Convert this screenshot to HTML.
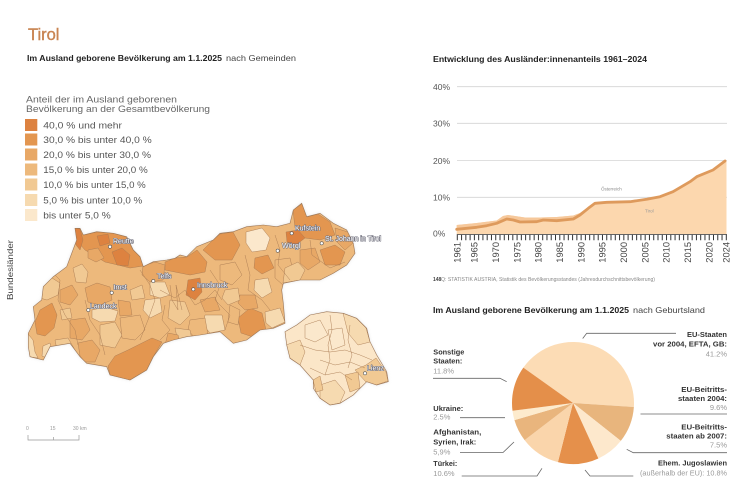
<!DOCTYPE html>
<html>
<head>
<meta charset="utf-8">
<style>
html,body{margin:0;padding:0;background:#fff;}
svg{display:block;}
text{font-family:"Liberation Sans",Arial,sans-serif;}
</style>
</head>
<body>
<svg width="750" height="486" viewBox="0 0 750 486" xmlns="http://www.w3.org/2000/svg">
<defs>
<clipPath id="nt">
<path id="ntp" d="M28.3,346.7 L30,356.7 L43.3,360 L50,346.7 L70,343.3 L80,356.7 L86.7,363.3 L106.7,366.7 L110,375 L130,380 L146.7,370 L153.3,356.7 L163.3,343.3 L173.3,340 L186.7,336.7 L200,335 L220,331.7 L233.3,343.3 L246.7,340 L260,330 L273.3,328.3 L285,323.3 L283.3,303.3 L281.7,290 L283.3,283.3 L300,280 L320,280 L333.3,273.3 L346.7,265 L355,253.3 L353.3,243.3 L346.7,230 L333.3,223.3 L320,213.3 L306.7,216.7 L301.7,203.3 L293.3,210 L290,223.3 L276.7,226.7 L263.3,225 L246.7,226.7 L233.3,231.7 L220,233.3 L213.3,240 L196.7,246.7 L186.7,256.7 L180,255 L175,258.3 L166.7,260 L153.3,261.7 L143.3,266.7 L140,256.7 L133.3,250 L126.7,236.7 L113.3,233.3 L96.7,231.7 L83.3,235 L80,228.3 L75,228.3 L76.7,240 L66.7,266.7 L53.3,276.7 L43.3,286.7 L41.7,300 L33.3,306.7 L35,320 L28.3,333.3 Z"/>
</clipPath>
<clipPath id="et">
<path d="M285,331.7 L296.7,325 L310,315 L326.7,311.7 L343.3,313.3 L356.7,318.3 L366.7,328.3 L370,341.7 L376.7,355 L386.7,371.7 L388.3,381.7 L376.7,385 L366.7,381.7 L353.3,395 L340,403.3 L330,405 L320,398.3 L313.3,388.3 L313.3,380 L300,365 L290,358.3 L286.7,345 Z"/>
</clipPath>
<filter id="sh" x="-10%" y="-10%" width="120%" height="120%">
<feGaussianBlur in="SourceAlpha" stdDeviation="1.6"/>
<feColorMatrix values="0 0 0 0 0.5  0 0 0 0 0.5  0 0 0 0 0.5  0 0 0 0.45 0"/>
<feMerge><feMergeNode/><feMergeNode in="SourceGraphic"/></feMerge>
</filter>
</defs>

<!-- Title -->
<text x="28" y="40" font-size="16.5" fill="#c98553" stroke="#c98553" stroke-width="0.4">Tirol</text>
<text x="27" y="61" font-size="8.5" font-weight="bold" fill="#222" textLength="195" lengthAdjust="spacingAndGlyphs">Im Ausland geborene Bevölkerung am 1.1.2025</text>
<text x="226" y="61" font-size="8.5" fill="#444" textLength="70" lengthAdjust="spacingAndGlyphs">nach Gemeinden</text>

<!-- Legend -->
<text x="26" y="102.5" font-size="9.5" fill="#666" textLength="151" lengthAdjust="spacingAndGlyphs">Anteil der im Ausland geborenen</text>
<text x="26" y="112" font-size="9.5" fill="#666" textLength="184" lengthAdjust="spacingAndGlyphs">Bevölkerung an der Gesamtbevölkerung</text>
<g font-size="9.5" fill="#555">
<rect x="25" y="119" width="12.3" height="12" fill="#dd8240"/>
<text x="43.3" y="128.5" textLength="78.7" lengthAdjust="spacingAndGlyphs">40,0 % und mehr</text>
<rect x="25" y="133.5" width="12.3" height="12" fill="#e39650"/>
<text x="43.3" y="143" textLength="108.4" lengthAdjust="spacingAndGlyphs">30,0 % bis unter 40,0 %</text>
<rect x="25" y="148.5" width="12.3" height="12" fill="#e8a866"/>
<text x="43.3" y="158" textLength="107.7" lengthAdjust="spacingAndGlyphs">20,0 % bis unter 30,0 %</text>
<rect x="25" y="163.5" width="12.3" height="12" fill="#edb97c"/>
<text x="43.3" y="173" textLength="104.4" lengthAdjust="spacingAndGlyphs">15,0 % bis unter 20,0 %</text>
<rect x="25" y="178.5" width="12.3" height="12" fill="#f1c993"/>
<text x="43.3" y="188" textLength="102.4" lengthAdjust="spacingAndGlyphs">10,0 % bis unter 15,0 %</text>
<rect x="25" y="194" width="12.3" height="12" fill="#f6dab0"/>
<text x="43.3" y="203.5" textLength="99" lengthAdjust="spacingAndGlyphs">5,0 % bis unter 10,0 %</text>
<rect x="25" y="209" width="12.3" height="12" fill="#fbe8cc"/>
<text x="43.3" y="218.5" textLength="67.4" lengthAdjust="spacingAndGlyphs">bis unter 5,0 %</text>
</g>

<!-- Bundesländer -->
<text transform="translate(13,300) rotate(-90)" font-size="8" fill="#444" textLength="60" lengthAdjust="spacingAndGlyphs">Bundesländer</text>

<!-- North Tirol map -->
<g filter="url(#sh)">
<use href="#ntp" fill="#edb97c"/>
</g>
<g clip-path="url(#nt)" stroke="#a97b52" stroke-width="0.45" stroke-linejoin="round">
<polygon fill="#e39650" points="76,228 80,228 84,235 97,232 113,233 126,237 133,250 140,257 143,266 130,268 118,265 105,262 95,256 85,250 78,242"/>
<polygon fill="#dd8240" points="75,228 80,229 83,240 80,250 76,245"/>
<polygon fill="#dd8240" points="112,252 122,248 130,255 128,266 117,265"/>
<polygon fill="#dd8240" points="97,236 108,234 110,243 100,246"/>
<polygon fill="#e8a866" points="88,250 98,248 104,258 96,262 88,258"/>
<polygon fill="#f1c993" points="73,268 82,264 88,272 86,283 76,282"/>
<polygon fill="#e39650" points="35,322 40,310 52,303 57,315 54,328 45,336 37,334"/>
<polygon fill="#f6dab0" points="28,334 33,340 35,352 38,358 30,357 28,346"/>
<polygon fill="#f6dab0" points="43,346 50,343 52,352 47,358 42,356"/>
<polygon fill="#f1c993" points="42,286 52,278 60,283 58,295 47,300 40,298"/>
<polygon fill="#e8a866" points="60,290 72,285 78,295 70,305 60,302"/>
<polygon fill="#e8a866" points="85,288 97,283 110,287 112,300 100,305 88,302"/>
<polygon fill="#f6dab0" points="92,310 105,307 118,311 115,321 100,322 92,318"/>
<polygon fill="#e8a866" points="70,320 85,318 90,330 82,340 70,338"/>
<polygon fill="#f1c993" points="55,340 68,338 75,350 70,358 58,355"/>
<polygon fill="#e8a866" points="78,343 92,340 100,350 95,362 85,362 80,356"/>
<polygon fill="#e39650" points="108,366 115,356 128,350 140,344 152,338 162,342 153,357 147,370 130,380 110,375"/>
<polygon fill="#f1c993" points="100,325 115,322 122,335 115,348 100,345"/>
<polygon fill="#edb97c" points="120,318 140,315 145,330 135,340 122,338"/>
<polygon fill="#f6dab0" points="145,300 160,298 162,312 150,318 143,310"/>
<polygon fill="#e39650" points="165,262 175,258 187,257 197,250 207,262 205,272 190,275 175,272 165,270"/>
<polygon fill="#dd8240" points="188,280 200,278 202,292 195,300 186,295"/>
<polygon fill="#e8a866" points="143,266 155,262 165,265 163,280 150,282 142,275"/>
<polygon fill="#f6dab0" points="150,282 165,282 170,295 160,298 150,295"/>
<polygon fill="#f1c993" points="170,300 185,302 190,315 180,325 168,318"/>
<polygon fill="#f6dab0" points="205,315 222,315 225,330 210,333 203,325"/>
<polygon fill="#edb97c" points="190,320 205,318 208,335 195,338 188,330"/>
<polygon fill="#f1c993" points="175,328 190,330 192,340 178,342"/>
<polygon fill="#e39650" points="203,250 213,240 220,234 233,232 240,245 232,260 215,260"/>
<polygon fill="#fbe8cc" points="246,232 262,228 270,238 266,250 252,252 246,243"/>
<polygon fill="#edb97c" points="220,265 235,262 242,275 232,285 220,280"/>
<polygon fill="#f6dab0" points="255,280 268,278 272,292 262,298 254,290"/>
<polygon fill="#e39650" points="238,318 250,308 262,313 266,330 256,338 241,333"/>
<polygon fill="#f6dab0" points="265,312 280,308 285,322 272,328 266,323"/>
<polygon fill="#e8a866" points="240,295 255,295 258,308 245,310 238,303"/>
<polygon fill="#edb97c" points="275,260 290,258 294,275 283,285 275,278"/>
<polygon fill="#e39650" points="293,210 302,204 307,217 318,214 330,222 335,235 320,240 305,238 295,228"/>
<polygon fill="#dd8240" points="286,232 298,230 305,238 296,245 287,242"/>
<polygon fill="#e8a866" points="300,250 315,248 320,262 308,270 300,263"/>
<polygon fill="#e39650" points="320,250 335,245 345,252 340,265 325,265"/>
<polygon fill="#e8a866" points="335,228 348,232 353,243 345,250 337,242"/>
<polygon fill="#f1c993" points="283,283 300,280 305,270 298,262 285,268"/>
<polygon fill="#e39650" points="255,258 268,255 274,268 262,274 254,268"/>
<polygon fill="#f1c993" points="225,290 238,288 240,300 228,305 222,298"/>
<polygon fill="#e8a866" points="200,300 215,297 220,310 205,312"/>
<polygon fill="#f1c993" points="130,290 142,285 145,298 132,300"/>
<polygon fill="#e8a866" points="118,300 130,302 132,315 120,316"/>
<polygon fill="#f1c993" points="60,310 70,308 72,318 62,320"/>
<polygon fill="#edb97c" points="230,305 240,310 238,325 228,322"/>
<polygon fill="#e8a866" points="165,345 180,343 178,335 168,333"/>
<polyline fill="none" points="50,270 60,280 58,300 65,315 75,330 78,345"/>
<polyline fill="none" points="140,270 150,285 155,300 148,320 140,340"/>
<polyline fill="none" points="160,290 175,298 185,290 195,305 205,300 215,290 222,300"/>
<polyline fill="none" points="210,270 220,285 215,300 230,315 225,330"/>
<polyline fill="none" points="245,255 250,275 248,290 262,300 270,310"/>
<polyline fill="none" points="275,235 280,250 278,265 290,280"/>
<polyline fill="none" points="310,240 312,255 330,268 345,262"/>
<polyline fill="none" points="165,305 162,320 170,330 160,340"/>
<polyline fill="none" points="85,300 90,320 100,335 105,355"/>
<polyline fill="none" points="170,285 172,300 178,310 176,285 182,310"/>
</g>
<use href="#ntp" fill="none" stroke="#9c7656" stroke-width="0.6"/>

<!-- East Tirol -->
<g filter="url(#sh)">
<path d="M285,331.7 L296.7,325 L310,315 L326.7,311.7 L343.3,313.3 L356.7,318.3 L366.7,328.3 L370,341.7 L376.7,355 L386.7,371.7 L388.3,381.7 L376.7,385 L366.7,381.7 L353.3,395 L340,403.3 L330,405 L320,398.3 L313.3,388.3 L313.3,380 L300,365 L290,358.3 L286.7,345 Z" fill="#fbe6c8"/>
</g>
<g clip-path="url(#et)" stroke="#a97b52" stroke-width="0.45" stroke-linejoin="round">
<polygon fill="#f6dab0" points="343,313 356,318 366,328 370,342 358,345 348,333"/>
<polygon fill="#f6dab0" points="286,345 300,340 305,352 300,365 290,358"/>
<polygon fill="#f1c993" points="355,370 366,365 376,358 386,372 388,381 376,385 366,382"/>
<polygon fill="#f6dab0" points="320,385 335,380 345,392 340,403 330,405 320,398"/>
<polygon fill="#f1c993" points="313,380 320,376 323,390 316,392"/>
<polygon fill="#f1c993" points="345,375 358,372 360,388 350,392"/>
<polygon fill="#fbe8cc" points="305,325 320,320 328,335 315,342 305,338"/>
<polygon fill="#fbe8cc" points="328,330 342,328 345,345 332,350"/>
<polyline fill="none" points="300,345 315,350 330,352 345,350 360,355 372,360"/>
<polyline fill="none" points="320,360 335,365 350,362 365,368"/>
<polyline fill="none" points="310,368 325,375 340,372 352,380"/>
<polyline fill="none" points="330,315 332,330 328,345 330,360 325,375"/>
<polyline fill="none" points="350,325 348,340 352,355 348,368"/>
</g>
<path d="M285,331.7 L296.7,325 L310,315 L326.7,311.7 L343.3,313.3 L356.7,318.3 L366.7,328.3 L370,341.7 L376.7,355 L386.7,371.7 L388.3,381.7 L376.7,385 L366.7,381.7 L353.3,395 L340,403.3 L330,405 L320,398.3 L313.3,388.3 L313.3,380 L300,365 L290,358.3 L286.7,345 Z" fill="none" stroke="#9c7656" stroke-width="0.6"/>

<!-- City labels -->
<g fill="#fff" stroke="#555" stroke-width="0.6">
<circle cx="110" cy="246.7" r="1.6"/>
<circle cx="153.3" cy="281" r="1.6"/>
<circle cx="111.7" cy="292.7" r="1.6"/>
<circle cx="88.3" cy="310" r="1.6"/>
<circle cx="193.3" cy="289.3" r="1.6"/>
<circle cx="291.7" cy="233.3" r="1.6"/>
<circle cx="277.7" cy="250.7" r="1.6"/>
<circle cx="321.7" cy="243.3" r="1.6"/>
<circle cx="365" cy="373.3" r="1.6"/>
</g>
<g font-size="7" fill="#fff" stroke="#6a6a78" stroke-width="1.1" paint-order="stroke" stroke-linejoin="round">
<text x="113" y="243.5">Reutte</text>
<text x="157" y="278.5">Telfs</text>
<text x="113.5" y="289.5">Imst</text>
<text x="90" y="308.5">Landeck</text>
<text x="197" y="287.5">Innsbruck</text>
<text x="295" y="230.5">Kufstein</text>
<text x="282" y="248">Wörgl</text>
<text x="325" y="240.8">St. Johann in Tirol</text>
<text x="367" y="370.5">Lienz</text>
</g>

<!-- Scale bar -->
<g font-size="5" fill="#999">
<text x="26" y="430">0</text>
<text x="50" y="430">15</text>
<text x="73" y="430">30 km</text>
</g>
<polyline points="28,435 28,440 79,440 79,435" fill="none" stroke="#999" stroke-width="0.7"/>
<line x1="53.5" y1="437" x2="53.5" y2="440" stroke="#999" stroke-width="0.7"/>

<!-- Line chart -->
<text x="433" y="62" font-size="8.7" font-weight="bold" fill="#222" textLength="214" lengthAdjust="spacingAndGlyphs">Entwicklung des Ausländer:innenanteils 1961–2024</text>
<g stroke="#d4d4d4" stroke-width="0.8">
<line x1="457" y1="86.7" x2="727" y2="86.7"/>
<line x1="457" y1="123.3" x2="727" y2="123.3"/>
<line x1="457" y1="160.5" x2="727" y2="160.5"/>
<line x1="457" y1="197.3" x2="727" y2="197.3"/>
</g>
<g font-size="8.5" fill="#555">
<text x="433" y="90">40%</text>
<text x="433" y="126.6">30%</text>
<text x="433" y="164">20%</text>
<text x="433" y="200.6">10%</text>
<text x="433" y="236.6">0%</text>
</g>
<path d="M456.7,225 L476.7,223 L496.7,220.5 L503,216 L508,215 L515,216 L525,217.5 L540,217.5 L556.7,217 L573.3,215.5 L580,213 L588.3,207 L595,202 L606.7,201.5 L630,201 L646.7,198.5 L660,196 L673,191 L690,181 L696.7,176 L713,169.3 L725,160.5 L726.5,160.5 L726.5,234 L456.7,234 Z" fill="#fcd7ae"/>
<path d="M456.7,225 L476.7,223 L496.7,220.5 L503,216 L508,215 L515,216 L525,217.5 L540,217.5 L556.7,217 L573.3,215.5 L580,213 L588.3,207 L590,208.3 L580,215 L573.3,219 L556.7,220.7 L543.3,220 L536.7,221.7 L520,222 L513.3,220 L506.7,219 L496.7,223.3 L486.7,225.7 L476.7,227.3 L456.7,229.3 Z" fill="#f6c89b"/>
<path d="M456.7,229.3 L476.7,227.3 L486.7,225.7 L496.7,223.3 L506.7,219 L513.3,220 L520,222 L536.7,221.7 L543.3,220 L556.7,220.7 L573.3,219 L580,215 L588.3,208.3 L595,203.3 L606.7,202.3 L630,201.7 L646.7,199.3 L660,196.7 L673,191.7 L690,181.7 L696.7,176.7 L713,170 L725,161" fill="none" stroke="#de9a5c" stroke-width="2.8" stroke-linejoin="round" stroke-linecap="round"/>
<text x="601" y="190.5" font-size="4.5" fill="#888">Österreich</text>
<text x="645" y="212.5" font-size="4.5" fill="#999">Tirol</text>
<line x1="456.8" y1="234.5" x2="727" y2="234.5" stroke="#333" stroke-width="0.8"/>
<line x1="456.8" y1="237.5" x2="727" y2="237.5" stroke="#333" stroke-width="5.5" stroke-dasharray="1 3.27"/>
<g font-size="9.3" fill="#444" text-anchor="end">
<text transform="translate(460.5,242) rotate(-90)">1961</text>
<text transform="translate(477.6,242) rotate(-90)">1965</text>
<text transform="translate(498.9,242) rotate(-90)">1970</text>
<text transform="translate(520.3,242) rotate(-90)">1975</text>
<text transform="translate(541.6,242) rotate(-90)">1980</text>
<text transform="translate(563,242) rotate(-90)">1985</text>
<text transform="translate(584.3,242) rotate(-90)">1990</text>
<text transform="translate(605.7,242) rotate(-90)">1995</text>
<text transform="translate(627,242) rotate(-90)">2000</text>
<text transform="translate(648.4,242) rotate(-90)">2005</text>
<text transform="translate(669.7,242) rotate(-90)">2010</text>
<text transform="translate(691.1,242) rotate(-90)">2015</text>
<text transform="translate(712.4,242) rotate(-90)">2020</text>
<text transform="translate(729.5,242) rotate(-90)">2024</text>
</g>
<text x="433" y="281" font-size="5" font-weight="bold" fill="#444">148</text>
<text x="441" y="281" font-size="5" fill="#888" textLength="214" lengthAdjust="spacingAndGlyphs">Q: STATISTIK AUSTRIA, Statistik des Bevölkerungsstandes (Jahresdurchschnittsbevölkerung)</text>

<!-- Pie chart -->
<text x="433" y="313" font-size="8.5" font-weight="bold" fill="#222" textLength="196" lengthAdjust="spacingAndGlyphs">Im Ausland geborene Bevölkerung am 1.1.2025</text>
<text x="633" y="313" font-size="8.5" fill="#444" textLength="72" lengthAdjust="spacingAndGlyphs">nach Geburtsland</text>

<g>
<path d="M573,403 L523.34,367.58 A61,61 0 0 1 633.87,407.04 Z" fill="#fcdcb5"/>
<path d="M573,403 L633.87,407.04 A61,61 0 0 1 620.81,440.89 Z" fill="#e8b57d"/>
<path d="M573,403 L620.81,440.89 A61,61 0 0 1 598.39,458.46 Z" fill="#fde8cc"/>
<path d="M573,403 L598.39,458.46 A61,61 0 0 1 557.93,462.11 Z" fill="#e5904b"/>
<path d="M573,403 L557.93,462.11 A61,61 0 0 1 524.60,440.14 Z" fill="#fad5ab"/>
<path d="M573,403 L524.60,440.14 A61,61 0 0 1 514.45,420.12 Z" fill="#e9b57d"/>
<path d="M573,403 L514.45,420.12 A61,61 0 0 1 512.49,410.75 Z" fill="#fdebcd"/>
<path d="M573,403 L512.49,410.75 A61,61 0 0 1 523.34,367.58 Z" fill="#e48f4a"/>
</g>

<g fill="none" stroke="#666" stroke-width="0.8">
<polyline points="582.7,338.5 586.7,333.3 676,333.3"/>
<polyline points="640.5,414 727,414"/>
<polyline points="626.7,449.3 633.3,452.7 727,452.7"/>
<polyline points="585,470 590,476 633.3,476"/>
<polyline points="433,378.3 500,378.3 506.7,381.7"/>
<polyline points="460,417.7 505,417.7"/>
<polyline points="460,452.5 503,452.5 514,442"/>
<polyline points="461.7,476 537,476 542,468.3"/>
</g>

<g font-size="7.5" text-anchor="end">
<text x="727" y="337" font-weight="bold" fill="#333" textLength="40" lengthAdjust="spacingAndGlyphs">EU-Staaten</text>
<text x="727" y="346.5" font-weight="bold" fill="#333" textLength="74" lengthAdjust="spacingAndGlyphs">vor 2004, EFTA, GB:</text>
<text x="727" y="356.5" fill="#999">41.2%</text>
<text x="727" y="392" font-weight="bold" fill="#333" textLength="45.7" lengthAdjust="spacingAndGlyphs">EU-Beitritts-</text>
<text x="727" y="401" font-weight="bold" fill="#333" textLength="49" lengthAdjust="spacingAndGlyphs">staaten 2004:</text>
<text x="727" y="410" fill="#999">9.6%</text>
<text x="727" y="429.4" font-weight="bold" fill="#333" textLength="45.7" lengthAdjust="spacingAndGlyphs">EU-Beitritts-</text>
<text x="727" y="438.7" font-weight="bold" fill="#333" textLength="60.7" lengthAdjust="spacingAndGlyphs">staaten ab 2007:</text>
<text x="727" y="447.7" fill="#999">7.5%</text>
<text x="727" y="465.4" font-weight="bold" fill="#333" textLength="69" lengthAdjust="spacingAndGlyphs">Ehem. Jugoslawien</text>
<text x="727" y="475.4" fill="#999" textLength="87" lengthAdjust="spacingAndGlyphs">(außerhalb der EU): 10.8%</text>
</g>
<g font-size="7.5">
<text x="433.3" y="354.4" font-weight="bold" fill="#333" textLength="31" lengthAdjust="spacingAndGlyphs">Sonstige</text>
<text x="433.3" y="363.7" font-weight="bold" fill="#333" textLength="29" lengthAdjust="spacingAndGlyphs">Staaten:</text>
<text x="433.3" y="373.4" fill="#999">11.8%</text>
<text x="433.3" y="411" font-weight="bold" fill="#333" textLength="30" lengthAdjust="spacingAndGlyphs">Ukraine:</text>
<text x="433.3" y="419.4" fill="#999">2.5%</text>
<text x="433.3" y="434.4" font-weight="bold" fill="#333" textLength="48" lengthAdjust="spacingAndGlyphs">Afghanistan,</text>
<text x="433.3" y="444.4" font-weight="bold" fill="#333" textLength="43" lengthAdjust="spacingAndGlyphs">Syrien, Irak:</text>
<text x="433.3" y="454.4" fill="#999">5,9%</text>
<text x="433.3" y="466" font-weight="bold" fill="#333" textLength="24" lengthAdjust="spacingAndGlyphs">Türkei:</text>
<text x="433.3" y="476" fill="#999">10.6%</text>
</g>
</svg>
</body>
</html>
